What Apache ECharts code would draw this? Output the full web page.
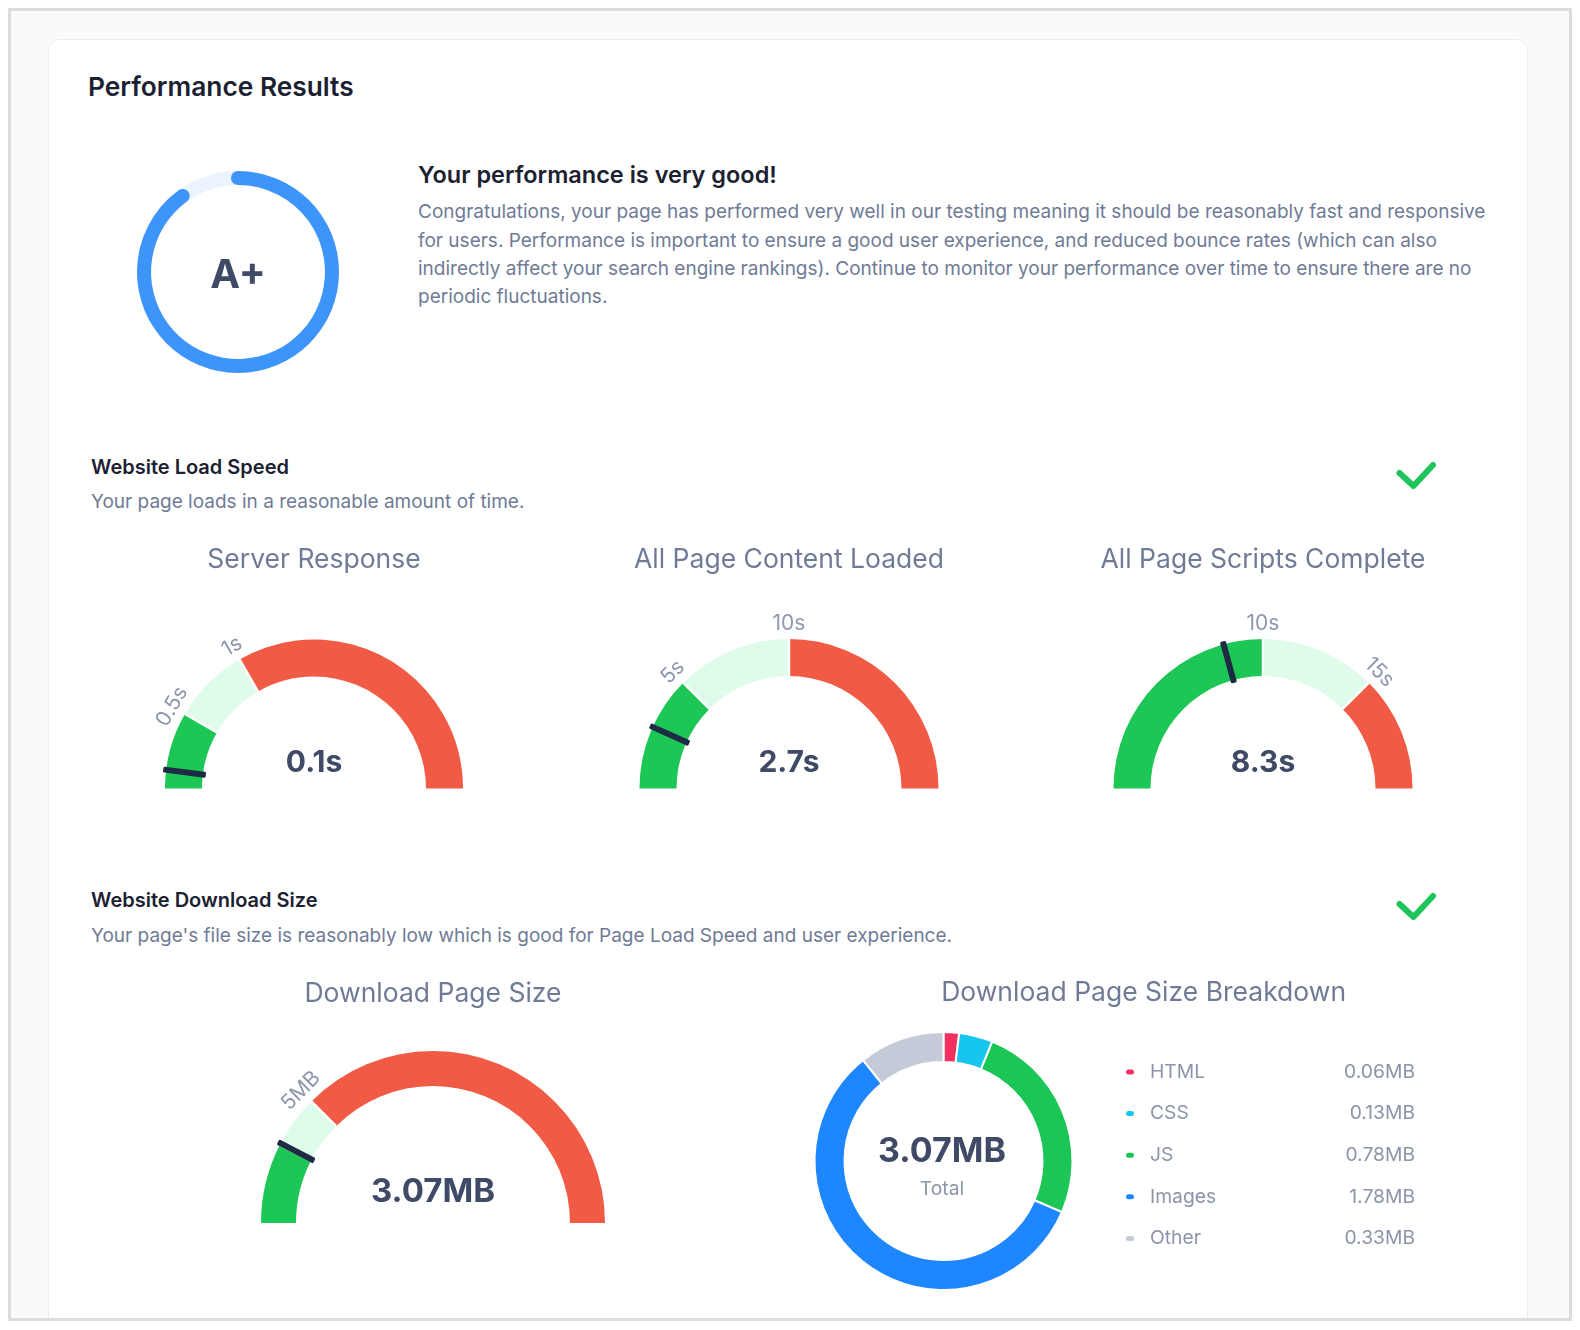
<!DOCTYPE html>
<html>
<head>
<meta charset="utf-8">
<title>Performance Results</title>
<script src="https://cdn.jsdelivr.net/npm/echarts@6/dist/echarts.min.js"></script>
<style>
  html, body { margin: 0; padding: 0; background: #fff; }
  body { width: 1580px; height: 1330px; position: relative; overflow: hidden; font-family: Inter, 'Noto Sans', sans-serif; }
  .outer { position: absolute; left: 8px; top: 8px; width: 1558px; height: 1307px; border: 3px solid #dcdcdc; background: #fafafa; overflow: hidden; }
  .card { position: absolute; left: 37px; top: 28px; width: 1478px; height: 1400px; background: #fff; border: 1px solid #ededed; border-radius: 12px; }
  .txt { position: absolute; white-space: nowrap; line-height: 1; }
  .h1 { left: 88px; top: 73.8px; font-size: 26.3px; font-weight: 600; color: #1b2131; }
  .h2 { left: 418px; top: 162.5px; font-size: 23.5px; font-weight: 600; color: #1b2131; }
  .para { left: 418px; top: 198.4px; font-size: 19px; line-height: 28.2px; color: #6f7b96; }
  .sec { left: 91px; font-size: 20px; font-weight: 600; color: #1b2131; }
  .sub { left: 91px; font-size: 19px; color: #6f7b96; }
  #main { position: absolute; left: 0; top: 0; width: 1580px; height: 1330px; }
  svg.check { position: absolute; left: 1390px; width: 56px; height: 40px; }
</style>
</head>
<body>
<div class="outer"><div class="card"></div></div>

<div class="txt h1">Performance Results</div>
<div class="txt h2">Your performance is very good!</div>
<div class="txt para">Congratulations, your page has performed very well in our testing meaning it should be reasonably fast and responsive<br>for users. Performance is important to ensure a good user experience, and reduced bounce rates (which can also<br>indirectly affect your search engine rankings). Continue to monitor your performance over time to ensure there are no<br>periodic fluctuations.</div>

<div class="txt sec" style="top:456.5px">Website Load Speed</div>
<div class="txt sub" style="top:492px">Your page loads in a reasonable amount of time.</div>
<svg class="check" style="top:452px" viewBox="1390 452 56 40"><polyline points="1399.5,473 1413.5,486 1433,465" fill="none" stroke="#1fc45a" stroke-width="6" stroke-linecap="round" stroke-linejoin="round"/></svg>

<div class="txt sec" style="top:889.9px">Website Download Size</div>
<div class="txt sub" style="top:925.7px">Your page's file size is reasonably low which is good for Page Load Speed and user experience.</div>
<svg class="check" style="top:882.5px" viewBox="1390 882.5 56 40"><polyline points="1399.5,903.5 1413.5,916.5 1433,895.5" fill="none" stroke="#1fc45a" stroke-width="6" stroke-linecap="round" stroke-linejoin="round"/></svg>

<div id="main"></div>

<script>
// overall score
var scoreValue = 90
var scoreGrade = 'A+'

// gauges
var gaugeNames = ['Server Response', 'All Page Content Loaded', 'All Page Scripts Complete', 'Download Page Size']
var gaugeValues = [0.12, 2.7, 8.3, 3.07]
var gaugeMax = [3, 20, 20, 20]
var gaugeGoodLimit = [0.5, 5, 10, 3]
var gaugeOkLimit = [1, 10, 15, 5]
var gaugeSplits = [6, 4, 4, 4]
var gaugeUnits = ['s', 's', 's', 'MB']
var gaugeDecimals = [1, 1, 1, 2]
var gaugeTickLabels = [[0.5, 1], [5, 10], [10, 15], [5]]

// download size breakdown
var sizeNames = ['HTML', 'CSS', 'JS', 'Images', 'Other']
var sizeValues = [0.06, 0.13, 0.78, 1.78, 0.33]
var sizeColors = ['#f3305f', '#17c6ee', '#1cc656', '#1e87ff', '#c5cad9']
var totalSize = 3.07

// layout only
var gaugeLayout = [
  { cx: 314, cy: 788.5, r: 149, w: 37, titleY: -228, valueY: -25.5, valueSize: 30 },
  { cx: 789, cy: 788.5, r: 149.5, w: 37, titleY: -228, valueY: -25.5, valueSize: 30 },
  { cx: 1263, cy: 788.5, r: 149.5, w: 37, titleY: -228, valueY: -25.5, valueSize: 30 },
  { cx: 433, cy: 1223, r: 172, w: 35, titleY: -229.4, valueY: -31.3, valueSize: 33 }
]

var GREEN = '#1cc756'
var LIGHT = '#defce9'
var RED = '#f15a45'
var DARK = '#3e4a66'
var FONT = 'Inter'
var NONE = { show: false }

// band colours, title and value text
function makeGauge (i) {
  var L = gaugeLayout[i]
  var max = gaugeMax[i]
  var unit = gaugeUnits[i]
  return {
    type: 'gauge',
    center: [L.cx, L.cy],
    radius: L.r,
    startAngle: 180,
    endAngle: 0,
    min: 0,
    max: max,
    splitNumber: gaugeSplits[i],
    axisLine: {
      lineStyle: {
        width: L.w,
        color: [[gaugeGoodLimit[i] / max, GREEN], [gaugeOkLimit[i] / max, LIGHT], [1, RED]]
      }
    },
    pointer: NONE,
    anchor: NONE,
    axisTick: NONE,
    splitLine: { show: false, length: 0, distance: 0 },
    axisLabel: {
      show: true,
      distance: -15,
      rotate: 'tangential',
      color: '#8e97ae',
      fontSize: 21,
      fontFamily: FONT,
      formatter: function (v) {
        var hit = gaugeTickLabels[i].some(function (t) { return Math.abs(t - v) < 1e-6 })
        return hit ? v + unit : ''
      }
    },
    title: {
      offsetCenter: [0, L.titleY],
      fontSize: 26.5,
      color: '#6f7b96',
      fontFamily: FONT
    },
    detail: {
      offsetCenter: [0, L.valueY],
      width: 220,
      fontSize: L.valueSize,
      fontWeight: 700,
      color: DARK,
      fontFamily: FONT,
      formatter: function (v) { return v.toFixed(gaugeDecimals[i]) + unit }
    },
    data: [{ value: gaugeValues[i], name: gaugeNames[i] }]
  }
}

// thin white gaps at the two band limits: an arc spanning the middle band, split once
function makeGaps (i) {
  var L = gaugeLayout[i]
  var max = gaugeMax[i]
  return {
    type: 'gauge',
    center: [L.cx, L.cy],
    radius: L.r,
    startAngle: 180 - gaugeGoodLimit[i] / max * 180,
    endAngle: 180 - gaugeOkLimit[i] / max * 180,
    min: gaugeGoodLimit[i],
    max: gaugeOkLimit[i],
    splitNumber: 1,
    axisLine: { lineStyle: { width: L.w, color: [[1, 'rgba(0,0,0,0)']] } },
    splitLine: { show: true, length: L.w, distance: -L.w, lineStyle: { color: '#fff', width: 2.5 } },
    pointer: NONE,
    anchor: NONE,
    axisTick: NONE,
    axisLabel: NONE,
    title: NONE,
    detail: NONE,
    data: []
  }
}

// dark marker at the measured value
function makeMarker (i) {
  var L = gaugeLayout[i]
  return {
    type: 'gauge',
    center: [L.cx, L.cy],
    radius: L.r,
    startAngle: 180,
    endAngle: 0,
    min: 0,
    max: gaugeMax[i],
    axisLine: NONE,
    splitLine: NONE,
    axisTick: NONE,
    axisLabel: NONE,
    anchor: NONE,
    title: NONE,
    detail: NONE,
    pointer: {
      icon: 'roundRect',
      width: 6,
      length: L.w + 6,
      offsetCenter: [0, -(L.r - L.w - 3)],
      itemStyle: { color: '#1f2a44' }
    },
    data: [{ value: gaugeValues[i] }]
  }
}

var myChart = echarts.init(document.getElementById('main'), null, { renderer: 'canvas' })

var series = [
  {
    type: 'gauge',
    center: [238, 272],
    radius: 101,
    startAngle: 90,
    endAngle: -270,
    min: 0,
    max: 100,
    axisLine: { lineStyle: { width: 14, color: [[1, '#eaf3ff']] } },
    progress: { show: true, width: 14, roundCap: true, itemStyle: { color: '#3d95fb' } },
    pointer: NONE,
    anchor: NONE,
    axisTick: NONE,
    splitLine: NONE,
    axisLabel: NONE,
    title: NONE,
    detail: {
      offsetCenter: [0, 4],
      fontSize: 40,
      fontWeight: 700,
      color: DARK,
      fontFamily: FONT,
      formatter: function () { return scoreGrade }
    },
    data: [{ value: scoreValue }]
  }
]
for (var i = 0; i < gaugeNames.length; i++) {
  series.push(makeGauge(i), makeGaps(i), makeMarker(i))
}

series.push({
  type: 'pie',
  name: 'Download Page Size Breakdown',
  center: [943.5, 1161],
  radius: [99, 129],
  startAngle: 90,
  clockwise: true,
  label: NONE,
  labelLine: NONE,
  emphasis: { disabled: true },
  itemStyle: { borderColor: '#fff', borderWidth: 2 },
  data: sizeNames.map(function (n, k) {
    return { name: n, value: sizeValues[k], itemStyle: { color: sizeColors[k] } }
  })
})

var option = {
  animation: false,
  title: {
    text: 'Download Page Size Breakdown',
    left: 1138.6,
    top: 975,
    textAlign: 'center',
    textStyle: { fontSize: 26.5, fontWeight: 400, color: '#6f7b96', fontFamily: FONT }
  },
  legend: {
    orient: 'vertical',
    left: 1119,
    top: 1057.5,
    itemWidth: 10,
    itemHeight: 7,
    itemGap: 22.6,
    selectedMode: false,
    icon: 'path://M3.5,0H6.5A3.5,3.5,0,0,1,6.5,7H3.5A3.5,3.5,0,0,1,3.5,0Z',
    data: sizeNames,
    formatter: function (name) {
      var k = sizeNames.indexOf(name)
      return '{n|' + name + '}{v|' + sizeValues[k].toFixed(2) + 'MB}'
    },
    textStyle: {
      rich: {
        n: { width: 190, fontSize: 19.3, lineHeight: 20, color: '#8c94aa', fontFamily: FONT, padding: [0, 0, 0, 10] },
        v: { width: 75, align: 'right', fontSize: 19.3, lineHeight: 20, color: '#8c94aa', fontFamily: FONT }
      }
    }
  },
  graphic: [
    {
      type: 'text',
      x: 942,
      y: 1151.5,
      style: { text: totalSize.toFixed(2) + 'MB', align: 'center', verticalAlign: 'middle', fontSize: 34, fontWeight: 700, fontFamily: FONT, fill: DARK }
    },
    {
      type: 'text',
      x: 942,
      y: 1189,
      style: { text: 'Total', align: 'center', verticalAlign: 'middle', fontSize: 19.3, fontFamily: FONT, fill: '#8c94aa' }
    }
  ],
  series: series
}
myChart.setOption(option)
</script>
</body>
</html>
